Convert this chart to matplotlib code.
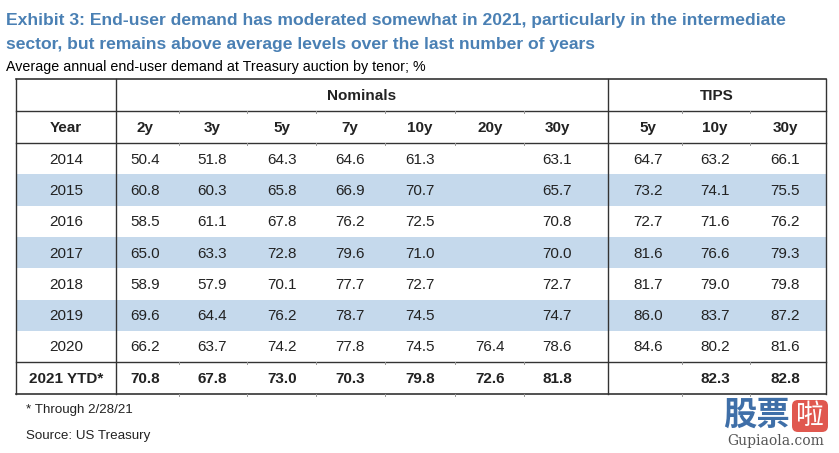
import matplotlib.pyplot as plt
from matplotlib.patches import Rectangle, FancyBboxPatch

plt.rcParams['font.family'] = ['Liberation Sans', 'DejaVu Sans']

title_lines = ["Exhibit 3: End-user demand has moderated somewhat in 2021, particularly in the intermediate",
               "sector, but remains above average levels over the last number of years"]
subtitle = "Average annual end-user demand at Treasury auction by tenor; %"
groups = ["Nominals", "TIPS"]
columns = ["2y", "3y", "5y", "7y", "10y", "20y", "30y", "5y", "10y", "30y"]
years = ["2014", "2015", "2016", "2017", "2018", "2019", "2020", "2021 YTD*"]
values = [
    [50.4, 51.8, 64.3, 64.6, 61.3, None, 63.1, 64.7, 63.2, 66.1],
    [60.8, 60.3, 65.8, 66.9, 70.7, None, 65.7, 73.2, 74.1, 75.5],
    [58.5, 61.1, 67.8, 76.2, 72.5, None, 70.8, 72.7, 71.6, 76.2],
    [65.0, 63.3, 72.8, 79.6, 71.0, None, 70.0, 81.6, 76.6, 79.3],
    [58.9, 57.9, 70.1, 77.7, 72.7, None, 72.7, 81.7, 79.0, 79.8],
    [69.6, 64.4, 76.2, 78.7, 74.5, None, 74.7, 86.0, 83.7, 87.2],
    [66.2, 63.7, 74.2, 77.8, 74.5, 76.4, 78.6, 84.6, 80.2, 81.6],
    [70.8, 67.8, 73.0, 70.3, 79.8, 72.6, 81.8, None, 82.3, 82.8],
]
footnotes = ["* Through 2/28/21", "Source: US Treasury"]

fig = plt.figure(figsize=(8.39, 4.53), dpi=100)
ax = fig.add_axes([0, 0, 1, 1])
ax.set_xlim(0, 839)
ax.set_ylim(453, 0)
ax.axis('off')

blue = '#4a80b4'
band = '#c5d9ec'
txt = '#222222'
fs = 11

ax.text(6, 21, title_lines[0], color=blue, fontsize=12.6, fontweight='bold', va='center')
ax.text(6, 45, title_lines[1], color=blue, fontsize=12.6, fontweight='bold', va='center')
ax.text(6, 67, subtitle, color='black', fontsize=10.3, va='center')

left, right, ydiv, tdiv = 16, 826, 116, 608
top, h1, h2 = 79, 111, 143
row_h = 31.3
col_x = [145, 212, 282, 350, 420, 490, 557, 648, 715, 785]
year_x = 66

# banded rows
for i in range(len(years) - 1):
    if i % 2 == 1:
        y0 = h2 + i * row_h
        ax.add_patch(Rectangle((left, y0), right - left, row_h, color=band, lw=0, zorder=0))

bottom_data = h2 + (len(years) - 1) * row_h
bottom = bottom_data + 32

lc = '#333333'
ax.plot([left, right], [top, top], color=lc, lw=1.2)
ax.plot([left, right], [h1, h1], color=lc, lw=1.0)
ax.plot([left, right], [h2, h2], color=lc, lw=1.0)
ax.plot([left, right], [bottom_data, bottom_data], color=lc, lw=1.0)
ax.plot([left, right], [bottom, bottom], color=lc, lw=1.2)
for x in [left, ydiv, tdiv, right]:
    ax.plot([x, x], [top, bottom], color=lc, lw=1.0)

# small tick marks at column boundaries
bounds = [(col_x[i] + col_x[i + 1]) / 2 for i in range(len(col_x) - 1) if i != 6]
for b in bounds:
    for y in [h1, h2, bottom_data, bottom]:
        ax.plot([b, b], [y, y + 1.5], color='#999999', lw=0.7)

# group headers
ax.text((ydiv + tdiv) / 2, (top + h1) / 2 + 1, groups[0], fontsize=fs, fontweight='bold', ha='center', va='center', color=txt)
ax.text((tdiv + right) / 2, (top + h1) / 2 + 1, groups[1], fontsize=fs, fontweight='bold', ha='center', va='center', color=txt)

ax.text(year_x, (h1 + h2) / 2 + 1, "Year", fontsize=fs, fontweight='bold', ha='center', va='center', color=txt)
for x, c in zip(col_x, columns):
    ax.text(x, (h1 + h2) / 2 + 1, c, fontsize=fs, fontweight='bold', ha='center', va='center', color=txt)

for i, (yr, row) in enumerate(zip(years, values)):
    last = i == len(years) - 1
    yc = (bottom_data + bottom) / 2 if last else h2 + (i + 0.5) * row_h
    fw = 'bold' if last else 'normal'
    ax.text(year_x, yc + 1, yr, fontsize=fs, fontweight=fw, ha='center', va='center', color=txt)
    for x, v in zip(col_x, row):
        if v is not None:
            ax.text(x, yc + 1, f"{v:.1f}", fontsize=fs, fontweight=fw, ha='center', va='center', color=txt)

ax.text(26, 410, footnotes[0], fontsize=9.6, va='center', color=txt)
ax.text(26, 436, footnotes[1], fontsize=9.6, va='center', color=txt)

# watermark
ax.text(723, 415, "股票", fontsize=24, fontweight='bold', color='#3f6fa8', va='center',
        family=['Noto Sans CJK SC', 'DejaVu Sans'])
ax.add_patch(FancyBboxPatch((792, 400), 36, 32, boxstyle='round,pad=0,rounding_size=6',
                            color='#e0584f', lw=0, zorder=2))
ax.text(810, 416, "啦", fontsize=20, color='white', ha='center', va='center', zorder=3,
        family=['Noto Sans CJK SC', 'DejaVu Sans'])
ax.text(776, 441, "Gupiaola.com", fontsize=10, color='#555555', ha='center', va='center',
        family=['DejaVu Serif'])

fig.savefig('out.png', dpi=100)
